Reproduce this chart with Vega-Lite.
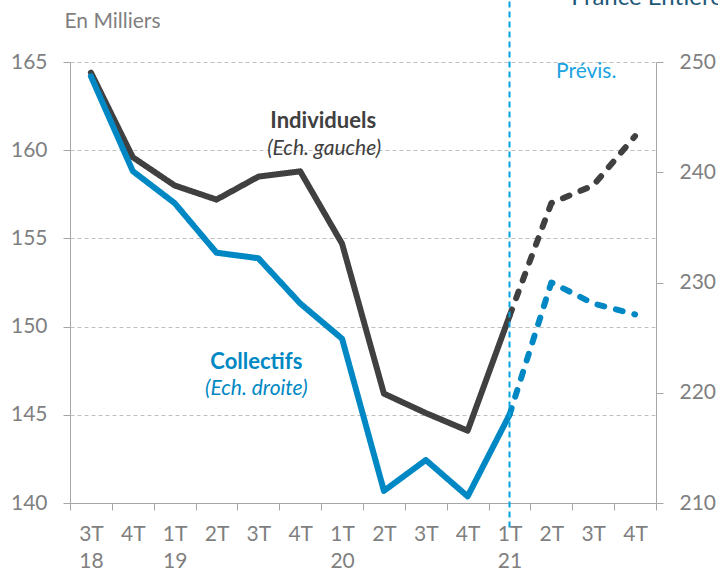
{
  "$schema": "https://vega.github.io/schema/vega-lite/v6.json",
  "width": 586,
  "height": 441,
  "autosize": "none",
  "padding": {"left": 70, "top": 62, "right": 62, "bottom": 67},
  "background": "white",
  "config": {"view": {"stroke": null}, "font": "Lato"},
  "datasets": {
    "series": [
      {"q": "3T18", "ind": 164.4, "col": 248.7, "seg": "Réalisé"},
      {"q": "4T18", "ind": 159.6, "col": 240.1, "seg": "Réalisé"},
      {"q": "1T19", "ind": 158.0, "col": 237.2, "seg": "Réalisé"},
      {"q": "2T19", "ind": 157.2, "col": 232.7, "seg": "Réalisé"},
      {"q": "3T19", "ind": 158.5, "col": 232.2, "seg": "Réalisé"},
      {"q": "4T19", "ind": 158.8, "col": 228.1, "seg": "Réalisé"},
      {"q": "1T20", "ind": 154.7, "col": 224.9, "seg": "Réalisé"},
      {"q": "2T20", "ind": 146.2, "col": 211.1, "seg": "Réalisé"},
      {"q": "3T20", "ind": 145.1, "col": 213.9, "seg": "Réalisé"},
      {"q": "4T20", "ind": 144.1, "col": 210.6, "seg": "Réalisé"},
      {"q": "1T21", "ind": 150.6, "col": 218.0, "seg": "Réalisé"},
      {"q": "1T21", "ind": 150.6, "col": 218.0, "seg": "Prévision"},
      {"q": "2T21", "ind": 157.0, "col": 230.0, "seg": "Prévision"},
      {"q": "3T21", "ind": 158.0, "col": 228.1, "seg": "Prévision"},
      {"q": "4T21", "ind": 160.8, "col": 227.1, "seg": "Prévision"}
    ],
    "marker": [{"q": "1T21", "top": 169, "bottom": 138.6}],
    "notes": [
      {"id": "ind", "q": "4T19", "v": 161.66, "label": "Individuels"},
      {"id": "indsub", "q": "4T19", "v": 160.07, "label": "(Ech. gauche)"},
      {"id": "col", "q": "3T19", "v": 147.99, "label": "Collectifs"},
      {"id": "colsub", "q": "3T19", "v": 146.46, "label": "(Ech. droite)"},
      {"id": "prev", "q": "3T21", "v": 164.43, "label": "Prévis."},
      {"id": "title", "q": "2T21", "v": 168.23, "label": "France Entière"}
    ]
  },
  "encoding": {
    "x": {
      "field": "q",
      "type": "ordinal",
      "scale": {
        "domain": ["3T18", "4T18", "1T19", "2T19", "3T19", "4T19", "1T20", "2T20", "3T20", "4T20", "1T21", "2T21", "3T21", "4T21"],
        "paddingInner": 0,
        "paddingOuter": 0
      },
      "axis": {
        "title": null,
        "tickBand": "extent",
        "labelAngle": 0,
        "labelOverlap": false,
        "domainColor": "#A6A6A6",
        "tickColor": "#A6A6A6",
        "tickSize": 7,
        "labelColor": "#7F7F7F",
        "labelFontSize": 21,
        "labelPadding": 13,
        "labelLineHeight": 27,
        "labelExpr": "!isString(datum.value) ? '' : (indexof(['3T18','1T19','1T20','1T21'], datum.value) >= 0 ? [substring(datum.value,0,2), substring(datum.value,2,4)] : substring(datum.value,0,2))"
      }
    }
  },
  "layer": [
    {
      "data": {"name": "series"},
      "mark": {"type": "line", "color": "#404040", "strokeWidth": 6, "strokeCap": "round", "strokeJoin": "round"},
      "encoding": {
        "y": {
          "field": "ind",
          "type": "quantitative",
          "scale": {"domain": [140, 165], "nice": false, "zero": false},
          "axis": {
            "orient": "left",
            "values": [140, 145, 150, 155, 160, 165],
            "grid": true,
            "gridDash": [4, 3],
            "gridColor": "#BFBFBF",
            "gridOpacity": {"condition": {"test": "datum.value == 140", "value": 0}, "value": 1},
            "tickSize": 7,
            "tickColor": "#A6A6A6",
            "domainColor": "#A6A6A6",
            "labelColor": "#7F7F7F",
            "labelFontSize": 21,
            "labelPadding": 16,
            "title": "En Milliers",
            "titleAngle": 0,
            "titleAlign": "left",
            "titleBaseline": "middle",
            "titleX": -6,
            "titleY": -41,
            "titleColor": "#7F7F7F",
            "titleFontSize": 21,
            "titleFontWeight": "normal"
          }
        },
        "strokeDash": {
          "field": "seg",
          "type": "nominal",
          "scale": {"domain": ["Réalisé", "Prévision"], "range": [[1, 0], [7, 12]]},
          "legend": null
        }
      }
    },
    {
      "data": {"name": "series"},
      "mark": {"type": "line", "color": "#0088C4", "strokeWidth": 6, "strokeCap": "round", "strokeJoin": "round"},
      "encoding": {
        "y": {
          "field": "col",
          "type": "quantitative",
          "scale": {"domain": [210, 250], "nice": false, "zero": false},
          "axis": {
            "orient": "right",
            "values": [210, 220, 230, 240, 250],
            "grid": false,
            "tickSize": 7,
            "tickColor": "#A6A6A6",
            "domainColor": "#A6A6A6",
            "labelColor": "#7F7F7F",
            "labelFontSize": 21,
            "labelPadding": 16,
            "title": null
          }
        },
        "strokeDash": {
          "field": "seg",
          "type": "nominal",
          "scale": {"domain": ["Réalisé", "Prévision"], "range": [[1, 0], [7, 12]]},
          "legend": null
        }
      }
    },
    {
      "data": {"name": "marker"},
      "mark": {"type": "rule", "color": "#00A3E0", "strokeWidth": 2, "strokeDash": [6, 4]},
      "encoding": {
        "y": {"field": "top", "type": "quantitative", "scale": {"domain": [140, 165], "nice": false, "zero": false}, "axis": null},
        "y2": {"field": "bottom"}
      }
    },
    {
      "data": {"name": "notes"},
      "transform": [{"filter": "datum.id == 'ind'"}],
      "mark": {"type": "text", "color": "#404040", "fontSize": 22, "fontWeight": "bold", "baseline": "middle", "align": "center", "dx": 23},
      "encoding": {
        "y": {"field": "v", "type": "quantitative", "scale": {"domain": [140, 165], "nice": false, "zero": false}, "axis": null},
        "text": {"field": "label"}
      }
    },
    {
      "data": {"name": "notes"},
      "transform": [{"filter": "datum.id == 'indsub'"}],
      "mark": {"type": "text", "color": "#404040", "fontSize": 21, "fontStyle": "italic", "baseline": "middle", "align": "center", "dx": 24},
      "encoding": {
        "y": {"field": "v", "type": "quantitative", "scale": {"domain": [140, 165], "nice": false, "zero": false}, "axis": null},
        "text": {"field": "label"}
      }
    },
    {
      "data": {"name": "notes"},
      "transform": [{"filter": "datum.id == 'col'"}],
      "mark": {"type": "text", "color": "#0088C4", "fontSize": 22, "fontWeight": "bold", "baseline": "middle", "align": "center", "dx": -2},
      "encoding": {
        "y": {"field": "v", "type": "quantitative", "scale": {"domain": [140, 165], "nice": false, "zero": false}, "axis": null},
        "text": {"field": "label"}
      }
    },
    {
      "data": {"name": "notes"},
      "transform": [{"filter": "datum.id == 'colsub'"}],
      "mark": {"type": "text", "color": "#0088C4", "fontSize": 21, "fontStyle": "italic", "baseline": "middle", "align": "center", "dx": -2},
      "encoding": {
        "y": {"field": "v", "type": "quantitative", "scale": {"domain": [140, 165], "nice": false, "zero": false}, "axis": null},
        "text": {"field": "label"}
      }
    },
    {
      "data": {"name": "notes"},
      "transform": [{"filter": "datum.id == 'prev'"}],
      "mark": {"type": "text", "color": "#1AA3E0", "fontSize": 21, "baseline": "middle", "align": "center", "dx": -7},
      "encoding": {
        "y": {"field": "v", "type": "quantitative", "scale": {"domain": [140, 165], "nice": false, "zero": false}, "axis": null},
        "text": {"field": "label"}
      }
    },
    {
      "data": {"name": "notes"},
      "transform": [{"filter": "datum.id == 'title'"}],
      "mark": {"type": "text", "color": "#1E5878", "fontSize": 24, "baseline": "alphabetic", "align": "left", "dx": 20},
      "encoding": {
        "y": {"field": "v", "type": "quantitative", "scale": {"domain": [140, 165], "nice": false, "zero": false}, "axis": null},
        "text": {"field": "label"}
      }
    }
  ],
  "resolve": {"scale": {"y": "independent"}}
}
